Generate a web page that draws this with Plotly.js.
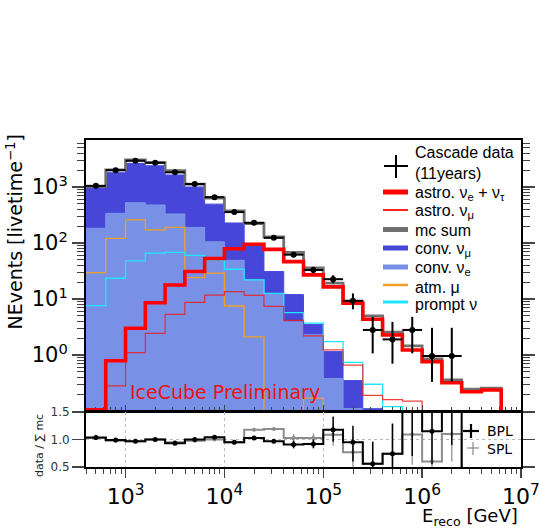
<!DOCTYPE html>
<html><head><meta charset="utf-8">
<script src="https://cdn.plot.ly/plotly-3.0.1.min.js"></script>
<style>html,body{margin:0;padding:0;background:#fff}#plot{width:539px;height:529px}</style>
</head><body><div id="plot"></div>
<script>
// ---- bin edges (log10 of E_reco / GeV) ----
const binEdgesLog = [2.6,2.8,3.0,3.2,3.4,3.6,3.8,4.0,4.2,4.4,4.6,4.8,5.0,5.2,5.4,5.6,5.8,6.0,6.2,6.4,6.6,6.8,7.0];

// ---- main panel series (events per livetime), one value per bin; 0 = nothing drawn ----
const dataVals   = [1050,2000,2950,2720,1830,1130,660,357,230,124,62,33,22.6,9.3,2.8,1.9,2.8,0.96,0.96,null,null,null];
const dataErrUp  = [30,50,60,60,45,35,22,15,11,9,7,4.5,4,3.3,2.0,2.0,2.0,2.1,2.1,null,null,null];
const dataErrDn  = [30,50,60,60,45,35,22,15,11,8,6,4,3.5,2.75,1.73,1.2,1.73,0.63,0.63,null,null,null];
const mcSum      = [1013,2020,3040,2720,1970,1130,635,375,223,128,68,36,19.2,9.0,5.0,2.55,1.45,0.85,0.36,0.245,0.255,0];
const convNuMu   = [960,1800,2650,2400,1640,1000,495,228,95,31,12,3.5,1.15,0.35,0.11,0,0,0,0,0,0,0];
const convNuE    = [183,339,525,477,330,190,105,49,22.4,12.6,3.9,2.3,0.38,0.11,0,0,0,0,0,0,0,0];
const astroEtau  = [0.105,0.79,3.0,8.6,17.8,31,53,79,95,77,46.6,27,16.5,8.4,4.36,2.28,1.23,0.76,0.32,0.22,0.237,0];
const astroMu    = [0,0.28,1.1,2.44,5.3,8.7,11.7,13.5,11.6,7.4,4.15,2.2,1.23,0.66,0.19,0.16,0.15,0,0,0,0,0];
const atmMu      = [29.5,121,258,171,190,24,29,7.5,2.1,0,0,0.17,0,0,0,0,0,0,0,0,0,0];
const promptNu   = [7.6,23.5,48,66,68,60,50,34,22,12.6,5.7,3.7,1.74,0.74,0.3,0.12,0,0,0,0,0,0];

// ---- ratio panel: data / sum mc ----
const ratioBPL    = [1.036,0.99,0.97,1.0,0.93,1.0,1.04,0.95,1.03,0.97,0.91,0.92,1.18,0.95,0.56,0.74,2.0,1.15,2.7,0];
const ratioBPLUp  = [0.02,0.02,0.02,0.02,0.02,0.02,0.02,0.02,0.03,0.03,0.07,0.08,0.24,0.3,0.4,0.55,1.4,2.4,5,0];
const ratioBPLDn  = [0.02,0.02,0.02,0.02,0.02,0.02,0.02,0.02,0.03,0.03,0.07,0.08,0.22,0.35,0.35,0.45,1.3,0.6,1.8,0];
const ratioSPL    = [1.03,0.98,0.97,1.0,0.95,0.98,1.0,0.95,1.18,1.19,1.03,1.03,1.085,0.77,0.56,0.74,1.09,0.6,1.1,0];
const ratioSPLUp  = [0.02,0.02,0.02,0.02,0.02,0.02,0.02,0.02,0.03,0.03,0.07,0.08,0.22,0.28,0.4,0.55,0.8,1.2,1.2,0];
const ratioSPLDn  = [0.02,0.02,0.02,0.02,0.02,0.02,0.02,0.02,0.03,0.03,0.07,0.08,0.2,0.3,0.35,0.45,0.55,0.35,0.5,0];

// ---- tick labels & legend labels ----
const yMainTicks = [1,10,100,1000];
const yMainLabels = ['10<sup>0</sup>','10<sup>1</sup>','10<sup>2</sup>','10<sup>3</sup>'];
const xTicks = [1e3,1e4,1e5,1e6,1e7];
const xLabels = ['10<sup>3</sup>','10<sup>4</sup>','10<sup>5</sup>','10<sup>6</sup>','10<sup>7</sup>'];
const rTicks = [0.5,1.0,1.5];
const rLabels = ['0.5','1.0','1.5'];
const legendLabels = ['Cascade data','(11years)','astro. ν<sub>e</sub> + ν<sub>τ</sub>','astro. ν<sub>μ</sub>','mc sum',
                      'conv. ν<sub>μ</sub>','conv. ν<sub>e</sub>','atm. μ','prompt ν'];
const ratioLegendLabels = ['BPL','SPL'];

// ---------------------------------------------------------------
const edges = binEdgesLog.map(v => Math.pow(10, v));
const centers = binEdgesLog.slice(0,-1).map((v,i) => Math.pow(10,(v+binEdgesLog[i+1])/2));
const FLOOR = 1e-4;
function step(vals, floor){
  const n = vals.length;
  const y = vals.map(v => (v===null||v<=0) ? floor : v);
  y.push(y[n-1]);
  return {x: edges.slice(0, n+1), y: y};
}
function minorVals(lo, hi){
  const out=[];
  for(let e=lo;e<hi;e++) for(let m=2;m<=9;m++) out.push(m*Math.pow(10,e));
  return out;
}
const font = 'DejaVu Sans, sans-serif';
const legFont = 'Liberation Sans, Arial, sans-serif';
const C = {numu:'#4646d8', nue:'#7891e6', atm:'#f0a020', prompt:'#1ee6fa', amu:'rgba(235,30,30,0.85)', mc:'#707070', aet:'#ff0000'};

const traces = [];
function stepTrace(vals, style, fill){
  const s = step(vals, FLOOR);
  const t = {x:s.x, y:s.y, type:'scatter', mode:'lines', line:Object.assign({shape:'hv'}, style), showlegend:false, xaxis:'x', yaxis:'y', hoverinfo:'skip'};
  if (fill){ t.fill = 'tozeroy'; t.fillcolor = fill; }
  return t;
}
traces.push(stepTrace(convNuMu, {color:'#4a4ae0', width:1}, C.numu));
traces.push(stepTrace(convNuE, {color:'#7f97ea', width:1}, C.nue));
traces.push(stepTrace(atmMu, {color:C.atm, width:1.3}));
traces.push(stepTrace(promptNu, {color:C.prompt, width:1.3}));
traces.push(stepTrace(astroMu, {color:C.amu, width:1.2}));
traces.push(stepTrace(mcSum, {color:C.mc, width:2.8}));
traces.push(stepTrace(astroEtau, {color:C.aet, width:3.6}));
// data points
const xErrP = centers.map((c,i)=>edges[i+1]-c);
const xErrM = centers.map((c,i)=>c-edges[i]);
traces.push({x:centers,y:dataVals,type:'scatter',mode:'markers',marker:{color:'#000',size:6},
  error_x:{type:'data',symmetric:false,array:xErrP,arrayminus:xErrM,color:'#000',thickness:2,width:0},
  error_y:{type:'data',symmetric:false,array:dataErrUp,arrayminus:dataErrDn,color:'#000',thickness:2,width:0},
  showlegend:false,xaxis:'x',yaxis:'y',hoverinfo:'skip'});

// ratio panel
const rc = centers.slice(0, ratioBPL.length);
const rSx = edges.slice(0, ratioSPL.length+1), rSy = ratioSPL.concat([ratioSPL[ratioSPL.length-1]]);
traces.push({x:rSx,y:rSy,type:'scatter',mode:'lines',line:{shape:'hv',color:'#8c8c8c',width:2},showlegend:false,xaxis:'x2',yaxis:'y2',hoverinfo:'skip'});
traces.push({x:rc,y:ratioSPL.map(v=>v>0?v:null),type:'scatter',mode:'markers',marker:{color:'#8c8c8c',size:4},
  error_y:{type:'data',symmetric:false,array:ratioSPLUp,arrayminus:ratioSPLDn,color:'#a0a0a0',thickness:1.5,width:0},
  showlegend:false,xaxis:'x2',yaxis:'y2',hoverinfo:'skip'});
const rBx = edges.slice(0, ratioBPL.length+1), rBy = ratioBPL.concat([ratioBPL[ratioBPL.length-1]]);
traces.push({x:rBx,y:rBy,type:'scatter',mode:'lines',line:{shape:'hv',color:'#000',width:2},showlegend:false,xaxis:'x2',yaxis:'y2',hoverinfo:'skip'});
traces.push({x:rc,y:ratioBPL.map(v=>v>0?v:null),type:'scatter',mode:'markers',marker:{color:'#000',size:5},
  error_y:{type:'data',symmetric:false,array:ratioBPLUp,arrayminus:ratioBPLDn,color:'#000',thickness:1.5,width:0},
  showlegend:false,xaxis:'x2',yaxis:'y2',hoverinfo:'skip'});

// ---- hand-drawn legends (paper coordinates from pixel positions) ----
const PL=86, PW=435, PB=467, PH=327;
const px = v => (v-PL)/PW, py = v => (PB-v)/PH;
const shapes = [], annotations = [];
function hline(x0,x1,y,color,width){ shapes.push({type:'line',xref:'paper',yref:'paper',x0:px(x0),x1:px(x1),y0:py(y),y1:py(y),line:{color:color,width:width}}); }
function vline(x,y0,y1,color,width){ shapes.push({type:'line',xref:'paper',yref:'paper',x0:px(x),x1:px(x),y0:py(y0),y1:py(y1),line:{color:color,width:width}}); }
function label(text,x,y,size,fam,color){ annotations.push({text:text,xref:'paper',yref:'paper',x:px(x),y:py(y),xanchor:'left',yanchor:'middle',showarrow:false,font:{family:fam,size:size,color:color||'#000'}}); }
// data "+"
hline(384,408,166,'#000',2); vline(396,155,178,'#000',2);
const legLineStyles = [[C.aet,5],['#ff2020',2],[C.mc,5],[C.numu,5],[C.nue,5],[C.atm,2.5],[C.prompt,3]];
const legLineY = [192,210,229.5,248,267,285,302];
legLineStyles.forEach((st,i)=>hline(383,408,legLineY[i],st[0],st[1]));
const legTextY = [152,173,193,211,230,249,268,287,304];
legendLabels.forEach((t,i)=>label(t,413,legTextY[i],16,legFont));
// ratio legend
hline(463,479,431,'#000',2.2); vline(471,424,438,'#000',2.2);
hline(467,479,448,'#888',1.2); vline(473,442,455,'#888',1.2);
label(ratioLegendLabels[0],485,430.5,14,font);
label(ratioLegendLabels[1],485,449,14,font);

annotations.push(
  {text:'IceCube Preliminary', xref:'paper', yref:'paper', x:px(224.5), y:py(392), xanchor:'center', yanchor:'middle', showarrow:false,
    font:{family:font, size:19, color:'#ee1111'}},
  {text:'NEvents [livetime<sup>−1</sup>]', xref:'paper', yref:'paper', x:px(14.5), y:py(232), xanchor:'center', yanchor:'middle', textangle:-90, showarrow:false,
    font:{family:font, size:19, color:'#000'}},
  {text:'data / ∑ mc', xref:'paper', yref:'paper', x:px(39), y:py(446), xanchor:'center', yanchor:'middle', textangle:-90, showarrow:false,
    font:{family:font, size:11, color:'#222'}},
  {text:'E<sub>reco</sub> [GeV]', xref:'paper', yref:'paper', x:px(520), y:py(517), xanchor:'right', yanchor:'middle', showarrow:false,
    font:{family:font, size:18, color:'#000'}}
);

const layout = {
  width:539, height:529,
  margin:{l:86, r:18, t:140, b:62},
  paper_bgcolor:'#fff', plot_bgcolor:'#fff',
  font:{family:font, color:'#000'},
  showlegend:false,
  xaxis:{domain:[0,1], anchor:'y', type:'log', range:[2.6,7.0001], showticklabels:false,
    tickmode:'array', tickvals:xTicks, ticks:'inside', ticklen:6, tickwidth:1,
    minor:{tickmode:'array', tickvals:minorVals(2,7), ticks:'inside', ticklen:4, tickwidth:1},
    showline:true, linewidth:2, linecolor:'#000', mirror:true, showgrid:false, zeroline:false},
  yaxis:{domain:[0.1713,1], anchor:'x', type:'log', range:[-1,3.84],
    tickmode:'array', tickvals:yMainTicks, ticktext:yMainLabels, ticks:'outside', ticklen:12, tickwidth:1.5,
    minor:{tickmode:'array', tickvals:minorVals(-1,4), ticks:'outside', ticklen:7, tickwidth:1},
    tickfont:{size:21, family:font}, showline:true, linewidth:2, linecolor:'#000', mirror:'allticks', showgrid:false, zeroline:false},
  xaxis2:{domain:[0,1], anchor:'y2', type:'log', range:[2.6,7.0001], matches:'x',
    tickmode:'array', tickvals:xTicks, ticktext:xLabels, ticks:'outside', ticklen:9, tickwidth:1.5,
    minor:{tickmode:'array', tickvals:minorVals(2,7), ticks:'outside', ticklen:5, tickwidth:1},
    tickfont:{size:22, family:font}, ticklabeloverflow:'allow', showline:true, linewidth:2, linecolor:'#000', mirror:true,
    showgrid:true, gridcolor:'#bbbbbb', griddash:'dot', gridwidth:1, zeroline:false},
  yaxis2:{domain:[0,0.168], anchor:'x2', range:[0.5,1.5],
    tickmode:'array', tickvals:rTicks, ticktext:rLabels, ticks:'outside', ticklen:12, tickwidth:1.5,
    tickfont:{size:12, family:font, color:'#333'}, showline:true, linewidth:2, linecolor:'#000', mirror:'allticks',
    showgrid:true, gridcolor:'#bbbbbb', griddash:'dot', gridwidth:1, zeroline:false},
  shapes: shapes,
  annotations: annotations
};
Plotly.newPlot('plot', traces, layout, {staticPlot:true, displayModeBar:false});
</script></body></html>
